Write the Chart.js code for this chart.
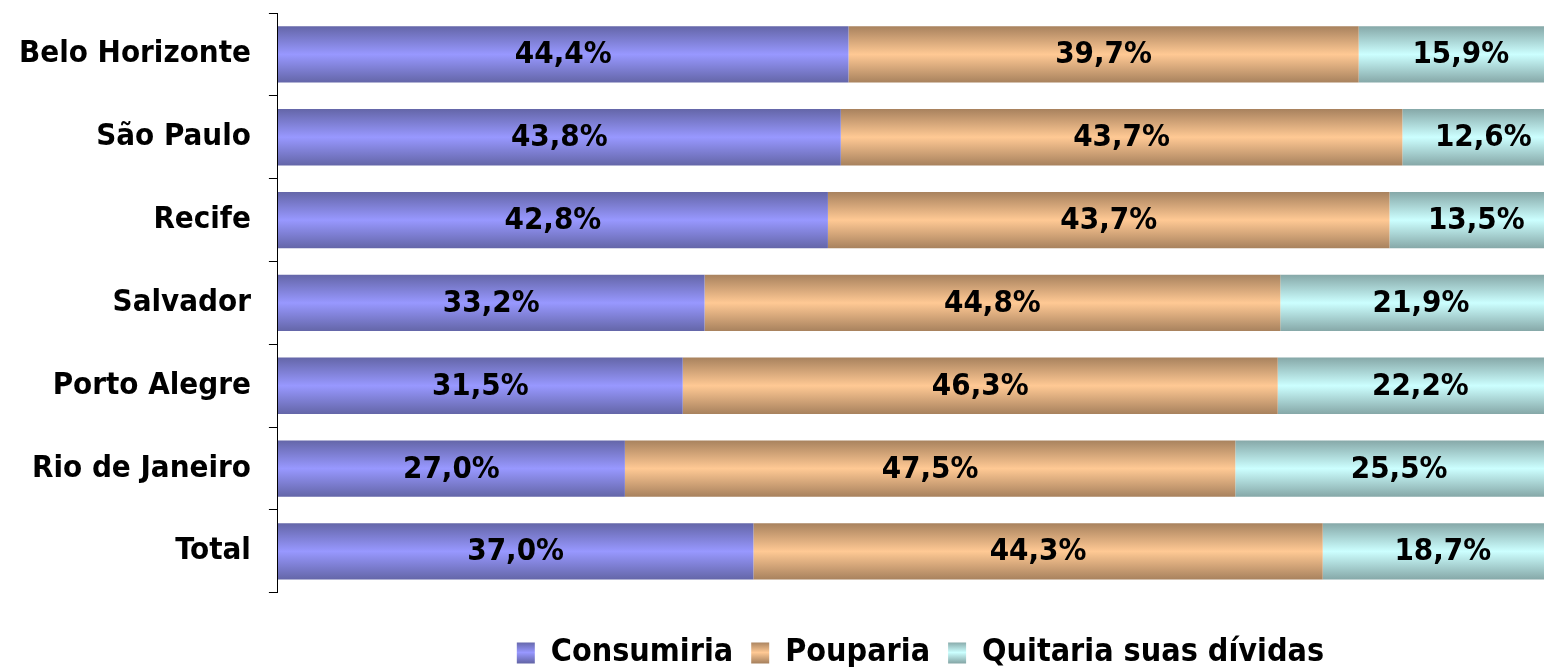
<!DOCTYPE html>
<html>
<head>
<meta charset="utf-8">
<script src="https://cdn.jsdelivr.net/npm/chart.js@4/dist/chart.umd.min.js"></script>
<style>
  html, body { margin: 0; padding: 0; background: #fff; overflow: hidden; }
  /* plot area runs a little past the right edge of the window */
  #wrap { width: 1563px; height: 667px; }
</style>
</head>
<body>
<div id="wrap"><canvas id="chartCanvas"></canvas></div>
<script>
const cities = ["Belo Horizonte", "São Paulo", "Recife", "Salvador", "Porto Alegre", "Rio de Janeiro", "Total"];
const consumiria = [44.4, 43.8, 42.8, 33.2, 31.5, 27.0, 37.0];
const pouparia = [39.7, 43.7, 43.7, 44.8, 46.3, 47.5, 44.3];
const quitaria = [15.9, 12.6, 13.5, 21.9, 22.2, 25.5, 18.7];

const FONT = "'DejaVu Sans Condensed', 'DejaVu Sans', sans-serif";
const BAR_PCT = 0.68;

// edge colour, middle colour
const shades = {
    purple: ["#6466a8", "#9898ff"],
    orange: ["#a8825e", "#ffc994"],
    cyan: ["#86a8a8", "#ccffff"]
};

function barGradient(shade) {
    return function (c) {
        const chart = c.chart;
        const yScale = chart.scales.y;
        if (!chart.chartArea || c.dataIndex === undefined || !yScale) return shade[1];
        const mid = yScale.getPixelForValue(c.dataIndex);
        const half = (yScale.bottom - yScale.top) / cities.length * BAR_PCT / 2;
        const g = chart.ctx.createLinearGradient(0, mid - half, 0, mid + half);
        g.addColorStop(0, shade[0]);
        g.addColorStop(0.5, shade[1]);
        g.addColorStop(1, shade[0]);
        return g;
    };
}

// percentage labels centred in each segment
const valueLabels = {
    id: "valueLabels",
    afterDatasetsDraw(chart) {
        const ctx = chart.ctx;
        ctx.save();
        ctx.font = "bold 31px " + FONT;
        ctx.fillStyle = "#000";
        ctx.textAlign = "center";
        ctx.textBaseline = "middle";
        chart.data.datasets.forEach((ds, di) => {
            const meta = chart.getDatasetMeta(di);
            meta.data.forEach((bar, i) => {
                const x = (bar.x + bar.base) / 2;
                ctx.fillText(ds.data[i].toFixed(1).replace(".", ",") + "%", x, bar.y + 1);
            });
        });
        ctx.restore();
    }
};

const ctx = document.getElementById("chartCanvas").getContext("2d");
const chart = new Chart(ctx, {
    type: "bar",
    data: {
        labels: cities,
        datasets: [
            { label: "Consumiria", data: consumiria, backgroundColor: barGradient(shades.purple) },
            { label: "Pouparia", data: pouparia, backgroundColor: barGradient(shades.orange) },
            { label: "Quitaria suas dívidas", data: quitaria, backgroundColor: barGradient(shades.cyan) }
        ]
    },
    options: {
        indexAxis: "y",
        responsive: true,
        maintainAspectRatio: false,
        animation: false,
        datasets: {
            bar: { barPercentage: BAR_PCT, categoryPercentage: 1.0, borderWidth: 0 }
        },
        layout: { padding: { top: 13, right: 0, left: 1, bottom: -12 } },
        scales: {
            x: {
                stacked: true,
                min: 0,
                max: 100,
                display: false
            },
            y: {
                stacked: true,
                afterFit(scale) {
                    // no extra room for half labels above/below
                    scale.paddingTop = 0;
                    scale.paddingBottom = 0;
                },
                border: { display: true, color: "#000", width: 1 },
                grid: {
                    display: true,
                    drawOnChartArea: false,
                    drawTicks: true,
                    tickLength: 9,
                    color: "#000",
                    offset: true
                },
                ticks: {
                    color: "#000",
                    padding: 18,
                    font: { family: FONT, size: 31, weight: "bold" }
                }
            }
        },
        plugins: {
            tooltip: { enabled: false },
            legend: {
                position: "bottom",
                fullSize: false,
                title: { display: true, text: "", font: { size: 1 }, padding: { top: 25, bottom: 0 } },
                labels: {
                    color: "#000",
                    boxWidth: 18,
                    boxHeight: 21,
                    padding: 18,
                    font: { family: FONT, size: 32, weight: "bold" },
                    generateLabels(chart) {
                        const list = [shades.purple, shades.orange, shades.cyan];
                        const top = 642;
                        return chart.data.datasets.map((ds, i) => {
                            const g = chart.ctx.createLinearGradient(0, top, 0, top + 21);
                            g.addColorStop(0, list[i][0]);
                            g.addColorStop(0.5, list[i][1]);
                            g.addColorStop(1, list[i][0]);
                            return {
                                text: ds.label,
                                fillStyle: g,
                                strokeStyle: g,
                                lineWidth: 0,
                                hidden: false,
                                datasetIndex: i,
                                fontColor: "#000"
                            };
                        });
                    }
                }
            }
        }
    },
    plugins: [valueLabels]
});
</script>
</body>
</html>
